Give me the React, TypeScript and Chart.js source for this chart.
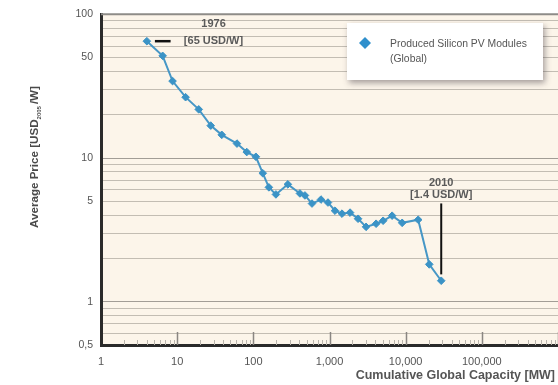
import React, { useEffect, useRef } from 'react';
import { Chart, registerables } from 'chart.js';

Chart.register(...registerables);

// Cumulative global capacity [MW] (x) and average module price [USD2005/W] (y), 1976 -> 2010
const capacityMW = [4.0, 6.45, 8.7, 12.9, 19.2, 27.6, 38.5, 61, 82, 108, 133, 160, 198, 284, 409, 476, 589, 773, 955, 1181, 1460, 1862, 2371, 3020, 4093, 5058, 6640, 8995, 14600, 20400, 29300];
const priceUSD = [65, 51.4, 34.3, 26.5, 21.8, 16.8, 14.5, 12.6, 11.0, 10.2, 7.84, 6.25, 5.58, 6.56, 5.67, 5.49, 4.82, 5.14, 4.9, 4.3, 4.1, 4.17, 3.78, 3.32, 3.49, 3.66, 3.97, 3.54, 3.72, 1.82, 1.4];

const seriesLabel = ['Produced Silicon PV Modules', '(Global)'];
const xTitle = 'Cumulative Global Capacity [MW]';
const xTickLabels = [1, 10, 100, 1000, 10000, 100000];
const yTickLabels = [0.5, 1, 5, 10, 50, 100];
const xRange = [1, 1000000];
const yRange = [0.5, 100];

// annotation anchors in data space
const startNote = { lines: ['1976', '[65 USD/W]'], x: 30, yLines: [85, 65], dash: [5.1, 8.2], dashY: 65 };
const endNote = { lines: ['2010', '[1.4 USD/W]'], x: 29300, yLines: [6.7, 5.5], lineFrom: 4.83, lineTo: 1.55 };

const FONT = '"Liberation Sans", Arial, sans-serif';

function logGrid(min: number, max: number): number[] {
  const out: number[] = [];
  for (let e = -1; e <= 6; e++) {
    for (let m = 1; m <= 9; m++) {
      const v = Number((m * Math.pow(10, e)).toPrecision(6));
      if (v >= min - 1e-9 && v <= max + 1e-9) out.push(v);
    }
  }
  return out;
}

const xGridValues = logGrid(xRange[0], xRange[1]);
const yGridValues = logGrid(yRange[0], yRange[1]);

const isPow10 = (v: number) => Math.abs(Math.log10(v) - Math.round(Math.log10(v))) < 1e-9;

const decorPlugin = {
  id: 'decor',
  beforeDraw(chart: any) {
    const { ctx, chartArea: a } = chart;
    ctx.save();
    ctx.fillStyle = '#ffffff';
    ctx.fillRect(0, 0, chart.width, chart.height);
    ctx.fillStyle = '#fcf5ea';
    ctx.fillRect(a.left, a.top, a.right - a.left, a.bottom - a.top);
    ctx.restore();
  },
  beforeDatasetsDraw(chart: any) {
    const { ctx, chartArea: a } = chart;
    const xs = chart.scales.x;
    ctx.save();
    // top border
    ctx.strokeStyle = '#8e8c88';
    ctx.lineWidth = 2;
    ctx.beginPath();
    ctx.moveTo(a.left, a.top);
    ctx.lineTo(a.right, a.top);
    ctx.stroke();
    // inner x ticks
    xGridValues.forEach((v) => {
      const px = Math.round(xs.getPixelForValue(v)) + 0.5;
      const major = isPow10(v);
      if (v === xRange[0]) return;
      ctx.strokeStyle = major ? '#8a8682' : '#b9b4ac';
      ctx.lineWidth = major ? 1.5 : 1;
      ctx.beginPath();
      ctx.moveTo(px, a.bottom);
      ctx.lineTo(px, a.bottom - (major ? 13 : 5));
      ctx.stroke();
    });
    ctx.restore();
  },
  afterDraw(chart: any) {
    const { ctx } = chart;
    const xs = chart.scales.x;
    const ys = chart.scales.y;
    ctx.save();

    // x-axis title
    ctx.fillStyle = '#555555';
    ctx.font = `bold 12.5px ${FONT}`;
    ctx.textAlign = 'right';
    ctx.textBaseline = 'middle';
    ctx.fillText(xTitle, 555, 376);

    // y-axis title with subscript
    ctx.translate(35, 157);
    ctx.rotate(-Math.PI / 2);
    ctx.fillStyle = '#4a4a4a';
    ctx.textBaseline = 'middle';
    ctx.textAlign = 'left';
    const p1 = 'Average Price [USD';
    const p2 = '2005';
    const p3 = '/W]';
    ctx.font = `bold 11.6px ${FONT}`;
    const w1 = ctx.measureText(p1).width;
    const w3 = ctx.measureText(p3).width;
    ctx.font = `bold 6px ${FONT}`;
    const w2 = ctx.measureText(p2).width;
    let sx = -(w1 + w2 + w3 + 2) / 2;
    ctx.font = `bold 11.6px ${FONT}`;
    ctx.fillText(p1, sx, 0);
    sx += w1;
    ctx.font = `bold 6px ${FONT}`;
    ctx.fillText(p2, sx, 4);
    sx += w2 + 2;
    ctx.font = `bold 11.6px ${FONT}`;
    ctx.fillText(p3, sx, 0);
    ctx.setTransform(1, 0, 0, 1, 0, 0);

    // start annotation
    ctx.fillStyle = '#5a5a5a';
    ctx.textAlign = 'center';
    ctx.textBaseline = 'middle';
    ctx.font = `bold 11px ${FONT}`;
    const sxp = xs.getPixelForValue(startNote.x);
    startNote.lines.forEach((t, i) => ctx.fillText(t, sxp, ys.getPixelForValue(startNote.yLines[i])));
    ctx.strokeStyle = '#111111';
    ctx.lineWidth = 2.5;
    ctx.beginPath();
    ctx.moveTo(xs.getPixelForValue(startNote.dash[0]), ys.getPixelForValue(startNote.dashY));
    ctx.lineTo(xs.getPixelForValue(startNote.dash[1]), ys.getPixelForValue(startNote.dashY));
    ctx.stroke();

    // end annotation
    const exp = xs.getPixelForValue(endNote.x);
    endNote.lines.forEach((t, i) => ctx.fillText(t, exp, ys.getPixelForValue(endNote.yLines[i])));
    ctx.strokeStyle = '#111111';
    ctx.lineWidth = 2;
    ctx.beginPath();
    ctx.moveTo(exp, ys.getPixelForValue(endNote.lineFrom));
    ctx.lineTo(exp, ys.getPixelForValue(endNote.lineTo));
    ctx.stroke();

    // legend box
    ctx.save();
    ctx.shadowColor = 'rgba(60,50,60,0.45)';
    ctx.shadowBlur = 6;
    ctx.shadowOffsetX = 2;
    ctx.shadowOffsetY = 3;
    ctx.fillStyle = '#ffffff';
    ctx.fillRect(347, 23, 196, 57);
    ctx.restore();
    ctx.fillStyle = '#2f8fcc';
    ctx.beginPath();
    ctx.moveTo(365, 37);
    ctx.lineTo(371, 43);
    ctx.lineTo(365, 49);
    ctx.lineTo(359, 43);
    ctx.closePath();
    ctx.fill();
    ctx.fillStyle = '#555555';
    ctx.textAlign = 'left';
    ctx.font = `10.4px ${FONT}`;
    ctx.fillText(seriesLabel[0], 390, 44);
    ctx.fillText(seriesLabel[1], 390, 59);

    ctx.restore();
  },
};

export default function App() {
  const ref = useRef<HTMLCanvasElement>(null);

  useEffect(() => {
    if (!ref.current) return;
    const points = capacityMW.map((x, i) => ({ x, y: priceUSD[i] }));
    const chart = new Chart(ref.current, {
      type: 'line',
      data: {
        datasets: [
          {
            label: seriesLabel.join(' '),
            data: points,
            borderColor: '#4797c6',
            backgroundColor: '#3b93c6',
            borderWidth: 2,
            pointStyle: 'rectRot',
            pointRadius: 3.8,
            pointBorderWidth: 1,
            pointBorderColor: '#3b93c6',
            pointBackgroundColor: '#3b93c6',
            tension: 0,
          },
        ],
      },
      options: {
        animation: false,
        responsive: false,
        devicePixelRatio: 1,
        parsing: false,
        layout: { autoPadding: false, padding: { top: 14, right: 0, bottom: 0, left: 0 } },
        plugins: { legend: { display: false }, tooltip: { enabled: false } },
        scales: {
          x: {
            type: 'logarithmic',
            min: xRange[0],
            max: xRange[1],
            afterBuildTicks: (s: any) => {
              s.ticks = xGridValues.map((v) => ({ value: v }));
            },
            afterFit: (s: any) => {
              s.height = 40;
              s.paddingLeft = 0;
              s.paddingRight = 0;
            },
            grid: { drawOnChartArea: false, drawTicks: false },
            border: { display: true, color: '#2a2a2a', width: 3 },
            ticks: {
              autoSkip: false,
              maxRotation: 0,
              padding: 10,
              color: '#555555',
              font: { family: FONT, size: 11 },
              callback: (v: any) => (xTickLabels.includes(Number(v)) ? Number(v).toLocaleString('en-US') : ''),
            },
            title: { display: false },
          },
          y: {
            type: 'logarithmic',
            min: yRange[0],
            max: yRange[1],
            afterBuildTicks: (s: any) => {
              s.ticks = yGridValues.map((v) => ({ value: v }));
            },
            afterFit: (s: any) => {
              s.width = 101;
            },
            grid: {
              drawTicks: false,
              lineWidth: 1,
              color: (c: any) => (c.tick && isPow10(c.tick.value) ? '#a29d96' : '#c3bdb3'),
            },
            border: { display: true, color: '#2a2a2a', width: 3 },
            ticks: {
              autoSkip: false,
              padding: 8,
              color: '#555555',
              font: { family: FONT, size: 10.5 },
              callback: (v: any) => (yTickLabels.includes(Number(v)) ? String(v).replace('.', ',') : ''),
            },
          },
        },
      },
      plugins: [decorPlugin],
    } as any);
    return () => chart.destroy();
  }, []);

  return (
    <div style={{ position: 'absolute', left: 0, top: 0, width: 558, height: 385 }}>
      <canvas ref={ref} width={558} height={385} style={{ display: 'block', width: 558, height: 385 }} />
    </div>
  );
}
